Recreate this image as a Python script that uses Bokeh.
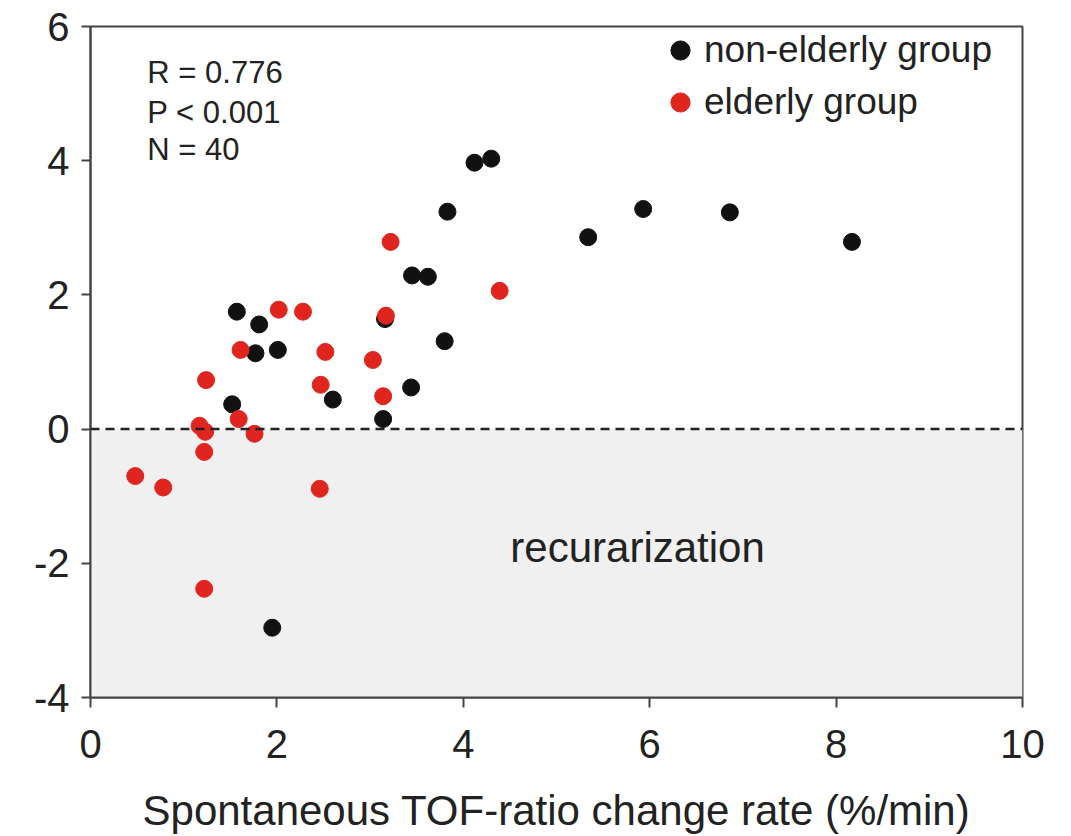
from bokeh.plotting import figure
from bokeh.models import Span, BoxAnnotation, Legend, LegendItem, FixedTicker, Range1d
from bokeh.core.properties import value
from bokeh.embed import file_html
from bokeh.resources import INLINE

# ---- data ----
nonelderly_x = [8.17, 6.86, 5.93, 5.34, 4.30, 4.12, 3.83, 3.45, 3.62, 1.57,
                1.81, 3.16, 3.80, 1.77, 2.01, 3.44, 2.60, 1.52, 3.14, 1.95]
nonelderly_y = [2.79, 3.23, 3.28, 2.86, 4.03, 3.97, 3.24, 2.29, 2.27, 1.75,
                1.56, 1.64, 1.31, 1.13, 1.18, 0.62, 0.44, 0.37, 0.15, -2.96]

elderly_x = [3.22, 4.39, 2.02, 2.28, 3.17, 1.61, 2.52, 3.03, 1.24, 2.47,
             3.14, 1.59, 1.17, 1.23, 1.76, 1.22, 0.48, 0.78, 1.22, 2.46]
elderly_y = [2.79, 2.06, 1.78, 1.75, 1.69, 1.18, 1.15, 1.03, 0.73, 0.66,
             0.49, 0.15, 0.05, -0.04, -0.07, -0.34, -0.70, -0.87, -2.38, -0.89]

x_ticks = [0, 2, 4, 6, 8, 10]
y_ticks = [-4, -2, 0, 2, 4, 6]
stats_lines = ["R = 0.776", "P < 0.001", "N = 40"]
stats_x = [0.61, 0.61, 0.61]
stats_y = [5.31, 4.72, 4.17]
region_label = "recurarization"
region_x = 5.87
region_y = -1.76
series_names = ["non-elderly group", "elderly group"]

FONT = "Liberation Sans"
BLACK = "#111111"
RED = "#e0251f"

p = figure(frame_width=932, frame_height=671, output_backend="svg",
           toolbar_location=None, x_range=Range1d(0, 10), y_range=Range1d(-4, 6),
           min_border_left=90, min_border_top=26, min_border_right=33,
           min_border_bottom=123)

p.xgrid.visible = False
p.ygrid.visible = False
p.outline_line_color = "#444444"
p.outline_line_width = 2
p.background_fill_color = "white"

# shaded recurarization region
p.add_layout(BoxAnnotation(top=0, fill_color="#f0f0f0", fill_alpha=1.0,
                           line_color=None, level="underlay"))
p.add_layout(Span(location=0, dimension="width", line_color="#222222",
                  line_width=2.5, line_dash="9 6"))

r_ne = p.scatter(nonelderly_x, nonelderly_y, size=17, color=BLACK)
r_e = p.scatter(elderly_x, elderly_y, size=17, color=RED)

p.text(x=stats_x, y=stats_y, text=stats_lines, text_font=value(FONT),
       text_font_size="31px", text_baseline="middle", text_align="left",
       text_color="#222222")
p.text(x=[region_x], y=[region_y], text=[region_label], text_font=value(FONT),
       text_font_size="42px", text_baseline="middle", text_align="center",
       text_color="#222222")

legend = Legend(items=[LegendItem(label=series_names[0], renderers=[r_ne]),
                       LegendItem(label=series_names[1], renderers=[r_e])],
                location="top_right", margin=0, padding=12, spacing=4,
                glyph_width=48, glyph_height=48, label_standoff=0,
                label_width=318, border_line_color=None,
                background_fill_alpha=0.0,
                label_text_font=FONT, label_text_font_size="37px",
                label_text_color="#222222")
p.add_layout(legend)

for ax in (p.xaxis[0], p.yaxis[0]):
    ax.axis_line_width = 2
    ax.axis_line_color = "#444444"
    ax.major_tick_line_width = 2
    ax.major_tick_line_color = "#444444"
    ax.minor_tick_line_color = None
    ax.major_tick_in = 0
    ax.major_label_text_font = FONT
    ax.major_label_text_font_size = "40px"
    ax.major_label_text_color = "#222222"

p.xaxis.ticker = FixedTicker(ticks=x_ticks)
p.yaxis.ticker = FixedTicker(ticks=y_ticks)
p.yaxis.major_label_overrides = {t: str(t) for t in y_ticks}
p.xaxis.major_label_overrides = {t: str(t) for t in x_ticks}
p.xaxis.major_tick_out = 10
p.yaxis.major_tick_out = 9
p.xaxis.major_label_standoff = 22
p.yaxis.major_label_standoff = 12
p.xaxis.axis_label = "Spontaneous TOF-ratio change rate (%/min)"
p.xaxis.axis_label_text_font = FONT
p.xaxis.axis_label_text_font_size = "42px"
p.xaxis.axis_label_text_font_style = "normal"
p.xaxis.axis_label_text_color = "#222222"
p.xaxis.axis_label_standoff = 26

open("out.html", "w").write(file_html(p, INLINE))
